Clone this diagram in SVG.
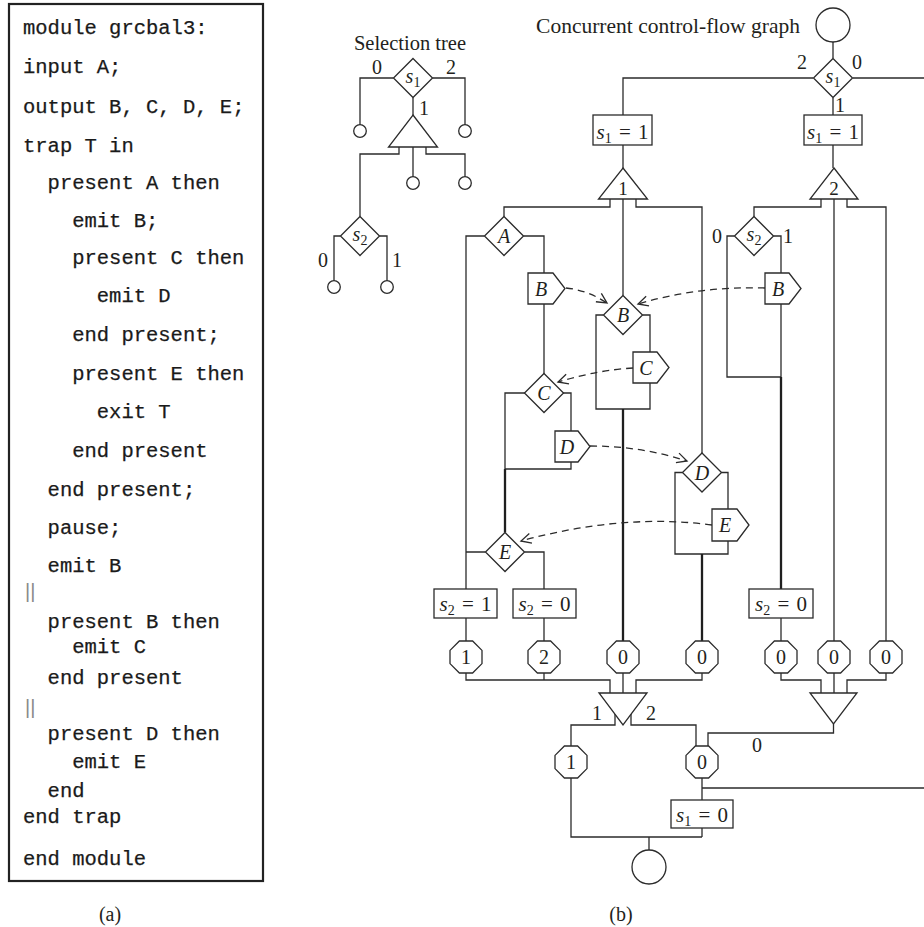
<svg xmlns="http://www.w3.org/2000/svg" width="924" height="927" viewBox="0 0 924 927">
<style>
.ln{fill:none;stroke:#2b2b2b;stroke-width:1.3}
.tk{fill:none;stroke:#1f1f1f;stroke-width:2.3}
.sh{fill:#fff;stroke:#2b2b2b;stroke-width:1.3}
.ds{fill:none;stroke:#2b2b2b;stroke-width:1.3;stroke-dasharray:7 5}
.code{font-family:"Liberation Mono","DejaVu Sans Mono",monospace;font-size:20.5px;fill:#1a1a1a;stroke:#1a1a1a;stroke-width:0.25}
.bar{font-family:"Liberation Sans",sans-serif;font-size:20px;fill:#8a8a8a}
.t{font-family:"Liberation Serif","Times New Roman",serif;font-size:20px;fill:#231f20;text-anchor:middle}
.bx{font-size:21px;word-spacing:2px}
.i{font-style:italic}
.sub{font-size:14px}
</style>
<defs>
<polygon id="dia" points="0,-19.5 19.5,0 0,19.5 -19.5,0"/>
<polygon id="oct" points="-6.6,-16 6.6,-16 16,-6.6 16,6.6 6.6,16 -6.6,16 -16,6.6 -16,-6.6"/>
<marker id="ah" markerUnits="userSpaceOnUse" markerWidth="14" markerHeight="14" viewBox="0 0 14 14" refX="12" refY="7" orient="auto">
<path d="M2,2 L12,7 L2,12" fill="none" stroke="#2b2b2b" stroke-width="1.3"/>
</marker>
</defs>

<g id="code-panel">
<rect x="9" y="4" width="254" height="877" fill="none" stroke="#222" stroke-width="2.2"/>
<text class="code" x="23" y="34">module grcbal3:</text>
<text class="code" x="23" y="73">input A;</text>
<text class="code" x="23" y="113">output B, C, D, E;</text>
<text class="code" x="23" y="152">trap T in</text>
<text class="code" x="47.6" y="189">present A then</text>
<text class="code" x="72.2" y="227">emit B;</text>
<text class="code" x="72.2" y="264">present C then</text>
<text class="code" x="96.8" y="302">emit D</text>
<text class="code" x="72.2" y="341">end present;</text>
<text class="code" x="72.2" y="380">present E then</text>
<text class="code" x="96.8" y="418">exit T</text>
<text class="code" x="72.2" y="457">end present</text>
<text class="code" x="47.6" y="496">end present;</text>
<text class="code" x="47.6" y="534">pause;</text>
<text class="code" x="47.6" y="572">emit B</text>
<text class="bar" x="25" y="598">||</text>
<text class="code" x="47.6" y="628">present B then</text>
<text class="code" x="72.2" y="653">emit C</text>
<text class="code" x="47.6" y="684">end present</text>
<text class="bar" x="25" y="714">||</text>
<text class="code" x="47.6" y="740">present D then</text>
<text class="code" x="72.2" y="768">emit E</text>
<text class="code" x="47.6" y="797">end</text>
<text class="code" x="23" y="823">end trap</text>
<text class="code" x="23" y="865">end module</text>
<text class="t" x="110" y="921" style="font-size:20px">(a)</text>
</g>

<g id="selection-tree">
<text class="t" x="410" y="50" style="font-size:20.5px">Selection tree</text>
<path class="ln" d="M393.5,78 H360 V124.7 M432.5,78 H465 V124.7 M413,97.5 V115 M399,147 V154 H360 V216.5 M413,147 V176.7 M426,147 V154 H465 V176.7 M340.5,236 H334 V280.7 M379.5,236 H387 V280.7"/>
<use href="#dia" x="413" y="78" class="sh"/>
<text class="t" x="413" y="83"><tspan class="i">s</tspan><tspan class="sub" dy="4">1</tspan></text>
<polygon class="sh" points="413,115 437.5,147 388.5,147"/>
<use href="#dia" x="360" y="236" class="sh"/>
<text class="t" x="360" y="241"><tspan class="i">s</tspan><tspan class="sub" dy="4">2</tspan></text>
<circle class="sh" cx="360" cy="131" r="6.3"/>
<circle class="sh" cx="465" cy="131" r="6.3"/>
<circle class="sh" cx="413" cy="183" r="6.3"/>
<circle class="sh" cx="465" cy="183" r="6.3"/>
<circle class="sh" cx="334" cy="287" r="6.3"/>
<circle class="sh" cx="387" cy="287" r="6.3"/>
<text class="t" x="377" y="74">0</text>
<text class="t" x="451" y="74">2</text>
<text class="t" x="424" y="115">1</text>
<text class="t" x="323" y="267">0</text>
<text class="t" x="397" y="267">1</text>
</g>

<g id="connectors">
<path class="ln" d="M833,42 V58 M813,78 H623 V115 M853,78 H924 M833,98 V115 M623,145 V168 M833,145 V168"/>
<path class="ln" d="M610,199 V207 H504 V216.5 M623,199 V295.5 M636,199 V207 H702 V453"/>
<path class="ln" d="M821,199 V207 H754 V216.5 M834,199 V641 M847,199 V207 H886 V641"/>
<path class="ln" d="M484.5,236 H466 V589 M523.5,236 H544 V273 M544,304 V374 M525,393 H505 V469 H571 V462 M563,393 H571 V431"/>
<path class="tk" d="M505,469 V532.5"/>
<path class="ln" d="M485.5,552 H466 M524.5,552 H544 V589 M466,618 V641 M544,618 V641"/>
<path class="ln" d="M603.5,315 H596 V409 H650 V383 M642.5,315 H650 V352"/>
<path class="tk" d="M623,409 V641"/>
<path class="ln" d="M682.5,472.5 H675 V554 H728 V541 M721.5,472.5 H728 V509"/>
<path class="tk" d="M702,554 V641"/>
<path class="ln" d="M734.5,236 H727 V377 H781 V304 M773.5,236 H781 V273"/>
<path class="tk" d="M781,377 V589"/>
<path class="ln" d="M781,618 V641"/>
<path class="ln" d="M466,673 V680 H610 V693 M544,673 V680 M623,673 V693 M702,673 V680 H636 V693"/>
<path class="ln" d="M781,673 V680 H821 V693 M834,673 V693 M886,673 V680 H847 V693"/>
<path class="ln" d="M615,714 V725 H571 V746 M631,714 V725 H696 V746 M833.5,724 V733 H708 V746"/>
<path class="ln" d="M571,778 V837 H702 M702,778 V800 M702,788 H924 M702,828 V837 M649,837 V850"/>
<path class="ds" marker-end="url(#ah)" d="M566,288 Q587,290 607,303"/>
<path class="ds" marker-end="url(#ah)" d="M765,288 Q698,286 638,304"/>
<path class="ds" marker-end="url(#ah)" d="M633,368 Q598,370 558,382"/>
<path class="ds" marker-end="url(#ah)" d="M590,446 Q641,446 687,461"/>
<path class="ds" marker-end="url(#ah)" d="M712,525 Q623,513 521,541"/>
</g>

<g id="title"><text class="t" x="668" y="33" style="font-size:21.5px">Concurrent control-flow graph</text></g>
<g id="source"><circle class="sh" cx="833" cy="25" r="17"/></g>
<g id="sel-s1">
<use href="#dia" x="833" y="78" class="sh"/>
<text class="t" x="833" y="83"><tspan class="i">s</tspan><tspan class="sub" dy="4">1</tspan></text>
<text class="t" x="802" y="69">2</text>
<text class="t" x="857" y="69">0</text>
<text class="t" x="840" y="112">1</text>
</g>
<g id="set-s1-1a"><rect class="sh" x="593" y="115" width="59" height="30"/>
<text class="t bx" x="622.5" y="139"><tspan class="i">s</tspan><tspan class="sub" dy="4">1</tspan><tspan dy="-4"> = 1</tspan></text></g>
<g id="set-s1-1b"><rect class="sh" x="804" y="115" width="58" height="30"/>
<text class="t bx" x="833" y="139"><tspan class="i">s</tspan><tspan class="sub" dy="4">1</tspan><tspan dy="-4"> = 1</tspan></text></g>
<g id="fork1"><polygon class="sh" points="623,168 647.5,199 598.5,199"/><text class="t" x="623" y="195" style="font-size:19px">1</text></g>
<g id="fork2"><polygon class="sh" points="834,168 858,199 810,199"/><text class="t" x="834" y="195" style="font-size:19px">2</text></g>
<g id="test-A"><use href="#dia" x="504" y="236" class="sh"/><text class="t i" x="504" y="243">A</text></g>
<g id="emit-B1"><path class="sh" d="M528,273 H553 L565,288.5 L553,304 H528 Z"/><text class="t i" x="541" y="296">B</text></g>
<g id="test-C"><use href="#dia" x="544" y="393" class="sh"/><text class="t i" x="544" y="400">C</text></g>
<g id="emit-D"><path class="sh" d="M555,431 H578 L590,446.5 L578,462 H555 Z"/><text class="t i" x="567" y="454">D</text></g>
<g id="test-E"><use href="#dia" x="505" y="552" class="sh"/><text class="t i" x="505" y="559">E</text></g>
<g id="set-s2-1"><rect class="sh" x="434" y="589" width="63" height="29"/>
<text class="t bx" x="465.5" y="611"><tspan class="i">s</tspan><tspan class="sub" dy="4">2</tspan><tspan dy="-4"> = 1</tspan></text></g>
<g id="set-s2-0a"><rect class="sh" x="513" y="589" width="63" height="29"/>
<text class="t bx" x="544.5" y="611"><tspan class="i">s</tspan><tspan class="sub" dy="4">2</tspan><tspan dy="-4"> = 0</tspan></text></g>
<g id="test-B"><use href="#dia" x="623" y="315" class="sh"/><text class="t i" x="623" y="322">B</text></g>
<g id="emit-C"><path class="sh" d="M633,352 H657 L669,367.5 L657,383 H633 Z"/><text class="t i" x="646" y="375">C</text></g>
<g id="test-D"><use href="#dia" x="702" y="472.5" class="sh"/><text class="t i" x="702" y="479.5">D</text></g>
<g id="emit-E"><path class="sh" d="M712,509 H737 L749,525 L737,541 H712 Z"/><text class="t i" x="725" y="532">E</text></g>
<g id="sel-s2"><use href="#dia" x="754" y="236" class="sh"/>
<text class="t" x="754" y="241"><tspan class="i">s</tspan><tspan class="sub" dy="4">2</tspan></text>
<text class="t" x="717" y="243">0</text><text class="t" x="788" y="243">1</text></g>
<g id="emit-B2"><path class="sh" d="M765,273 H789 L801,288.5 L789,304 H765 Z"/><text class="t i" x="778" y="296">B</text></g>
<g id="set-s2-0b"><rect class="sh" x="749" y="589" width="64" height="29"/>
<text class="t bx" x="781" y="611"><tspan class="i">s</tspan><tspan class="sub" dy="4">2</tspan><tspan dy="-4"> = 0</tspan></text></g>
<g id="term-row">
<use href="#oct" x="466" y="657" class="sh"/><text class="t" x="466" y="664">1</text>
<use href="#oct" x="544" y="657" class="sh"/><text class="t" x="544" y="664">2</text>
<use href="#oct" x="623" y="657" class="sh"/><text class="t" x="623" y="664">0</text>
<use href="#oct" x="702" y="657" class="sh"/><text class="t" x="702" y="664">0</text>
<use href="#oct" x="781" y="657" class="sh"/><text class="t" x="781" y="664">0</text>
<use href="#oct" x="834" y="657" class="sh"/><text class="t" x="834" y="664">0</text>
<use href="#oct" x="886" y="657" class="sh"/><text class="t" x="886" y="664">0</text>
</g>
<g id="join1"><polygon class="sh" points="599,693 647,693 623,725"/>
<text class="t" x="597" y="720">1</text><text class="t" x="651" y="720">2</text></g>
<g id="join2"><polygon class="sh" points="810,693 857,693 833.5,724"/><text class="t" x="757" y="752">0</text></g>
<g id="term-1"><use href="#oct" x="571" y="762" class="sh"/><text class="t" x="571" y="769">1</text></g>
<g id="term-0"><use href="#oct" x="702" y="762" class="sh"/><text class="t" x="702" y="769">0</text></g>
<g id="set-s1-0"><rect class="sh" x="671" y="800" width="62" height="28"/>
<text class="t bx" x="702" y="822"><tspan class="i">s</tspan><tspan class="sub" dy="4">1</tspan><tspan dy="-4"> = 0</tspan></text></g>
<g id="sink"><circle class="sh" cx="649" cy="867" r="17"/></g>
<text class="t" x="621" y="921" style="font-size:20px">(b)</text>
</svg>
